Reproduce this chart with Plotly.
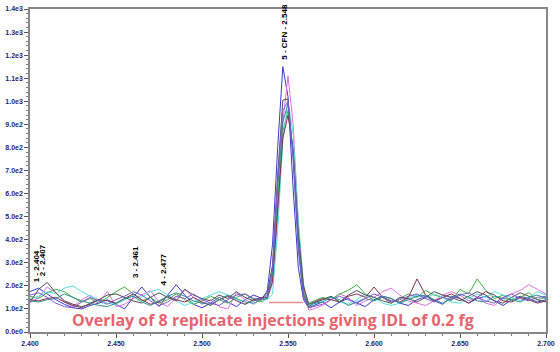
import plotly.graph_objects as go

# retention time grid (min)
rt = [2.400, 2.405, 2.410, 2.415, 2.420, 2.425, 2.430, 2.435, 2.440, 2.445,
      2.450, 2.455, 2.460, 2.465, 2.470, 2.475, 2.480, 2.485, 2.490, 2.495,
      2.500, 2.505, 2.510, 2.515, 2.520, 2.525, 2.530, 2.535,
      2.538, 2.541, 2.544, 2.547, 2.550, 2.553, 2.556, 2.559, 2.562,
      2.565, 2.570, 2.575, 2.580, 2.585, 2.590, 2.595, 2.600, 2.605, 2.610,
      2.615, 2.620, 2.625, 2.630, 2.635, 2.640, 2.645, 2.650, 2.655, 2.660,
      2.665, 2.670, 2.675, 2.680, 2.685, 2.690, 2.695, 2.700]

inj1 = [175,190,165,140,120,105,100,115,125,140,120,100,150,195,150,110,160,205,160,120,105,125,150,130,110,140,160,145,
        180,380,800,1150,1020,620,280,140,105,
        115,130,105,130,145,125,110,140,155,145,125,115,140,155,135,120,155,145,125,145,155,135,115,140,155,145,130,140]
inj2 = [125,150,195,170,130,110,140,160,130,175,110,120,145,160,180,130,110,150,185,150,120,140,110,100,170,140,120,150,
        145,210,500,910,1110,900,470,190,95,
        100,115,140,165,150,115,135,150,175,190,160,135,125,115,135,160,175,160,135,150,125,115,145,165,180,205,185,165]
inj3 = [155,145,170,185,175,150,130,145,125,150,175,195,165,135,150,125,140,165,140,120,135,155,140,125,150,165,140,130,
        150,240,560,870,960,780,410,190,125,
        135,150,140,165,180,205,165,135,150,125,145,165,150,180,160,150,135,185,165,230,180,145,160,135,150,170,140,150]
inj4 = [145,155,175,165,190,200,175,155,140,125,120,140,160,150,175,185,160,135,115,130,145,160,175,160,140,120,135,150,
        140,165,440,830,1000,860,480,210,110,
        120,135,155,130,120,140,165,150,125,115,125,145,160,145,165,150,130,125,145,165,150,175,160,150,135,150,175,160]
inj5 = [130,185,215,170,135,120,110,120,140,160,165,150,135,125,150,170,150,135,185,160,145,135,160,145,175,150,135,145,
        170,290,680,1005,1010,760,370,160,110,
        125,140,155,130,160,180,160,150,135,125,150,145,130,150,175,160,150,135,155,175,160,135,125,150,170,155,140,130]
inj6 = [140,135,145,150,130,115,105,125,140,135,125,145,165,140,120,130,155,140,130,150,130,115,140,155,135,120,140,150,
        150,220,520,840,940,790,430,200,120,
        130,145,140,130,155,165,150,195,150,135,130,150,230,160,135,150,165,145,125,150,175,160,135,130,150,140,125,135]
inj7 = [135,130,140,145,165,150,135,125,115,110,125,145,155,130,115,135,155,170,155,135,125,120,140,160,145,130,125,140,
        145,260,620,910,990,780,400,170,120,
        125,130,150,140,115,130,145,135,155,145,125,140,155,160,140,125,145,165,150,135,130,155,145,140,130,150,160,145]
inj8 = [160,170,150,125,110,105,130,150,135,120,140,155,175,160,135,115,130,155,145,165,140,125,115,140,160,165,145,140,
        160,270,660,960,1000,750,360,150,105,
        110,120,140,155,140,125,145,165,150,130,140,155,165,145,130,150,140,160,170,150,135,125,150,165,145,135,150,155]

series = [inj1, inj2, inj3, inj4, inj5, inj6, inj7, inj8]
colors = ["#3a3ad0", "#e070e0", "#40b040", "#50e0e0", "#505050", "#803050", "#2f8f8f", "#7a5ad0"]

baseline_x = [2.539, 2.559]
baseline_y = [128, 128]

peak_labels = ["1 - 2.404", "2 - 2.407", "3 - 2.461", "4 - 2.477", "5 - CFN - 2.548"]
peak_x = [2.4035, 2.4075, 2.4615, 2.4775, 2.5475]
peak_y = [207, 232, 224, 194, 1170]

y_ticks = [0, 100, 200, 300, 400, 500, 600, 700, 800, 900, 1000, 1100, 1200, 1300, 1400]
y_tick_text = ["0.0e0", "1.0e2", "2.0e2", "3.0e2", "4.0e2", "5.0e2", "6.0e2", "7.0e2",
               "8.0e2", "9.0e2", "1.0e3", "1.1e3", "1.2e3", "1.3e3", "1.4e3"]
x_ticks = [2.400, 2.450, 2.500, 2.550, 2.600, 2.650, 2.700]
x_tick_text = ["2.400", "2.450", "2.500", "2.550", "2.600", "2.650", "2.700"]

caption = "Overlay of 8 replicate injections giving IDL of 0.2 fg"

fig = go.Figure()
for s, c in zip(series, colors):
    fig.add_trace(go.Scatter(x=rt, y=s, mode="lines", line=dict(color=c, width=1),
                             hoverinfo="skip", showlegend=False))
fig.add_trace(go.Scatter(x=baseline_x, y=baseline_y, mode="lines",
                         line=dict(color="#e09090", width=1.5), showlegend=False))

for t, x, y in zip(peak_labels, peak_x, peak_y):
    fig.add_annotation(x=x, y=y, text="<b>" + t + "</b>", showarrow=False, textangle=-90,
                       xanchor="center", yanchor="bottom",
                       font=dict(family="Liberation Sans", size=8, color="#000000"))

fig.add_annotation(xref="paper", yref="paper", x=0.47, y=0.036, text="<b>" + caption + "</b>",
                   showarrow=False, xanchor="center", yanchor="middle",
                   font=dict(family="Open Sans", size=16, color="#e8646e"))

tickfont = dict(family="Liberation Sans", size=7, color="#1e1e78", weight="bold")
fig.update_layout(
    width=560, height=352,
    margin=dict(l=26, r=11, t=5, b=15),
    plot_bgcolor="white", paper_bgcolor="white",
    xaxis=dict(range=[2.400, 2.700], tickvals=x_ticks, ticktext=x_tick_text,
               ticks="outside", ticklen=4, tickcolor="#555555", tickfont=tickfont,
               showline=True, linecolor="#888888", linewidth=1.5, mirror=True,
               showgrid=False, zeroline=False,
               minor=dict(dtick=0.01, ticks="outside", ticklen=2, tickcolor="#777777")),
    yaxis=dict(range=[0, 1400], tickvals=y_ticks, ticktext=y_tick_text,
               ticks="outside", ticklen=4, tickcolor="#555555", tickfont=tickfont,
               showline=True, linecolor="#888888", linewidth=1.5, mirror=True,
               showgrid=False, zeroline=False,
               minor=dict(dtick=20, ticks="outside", ticklen=2, tickcolor="#777777")),
)

fig.write_html("out.html")
